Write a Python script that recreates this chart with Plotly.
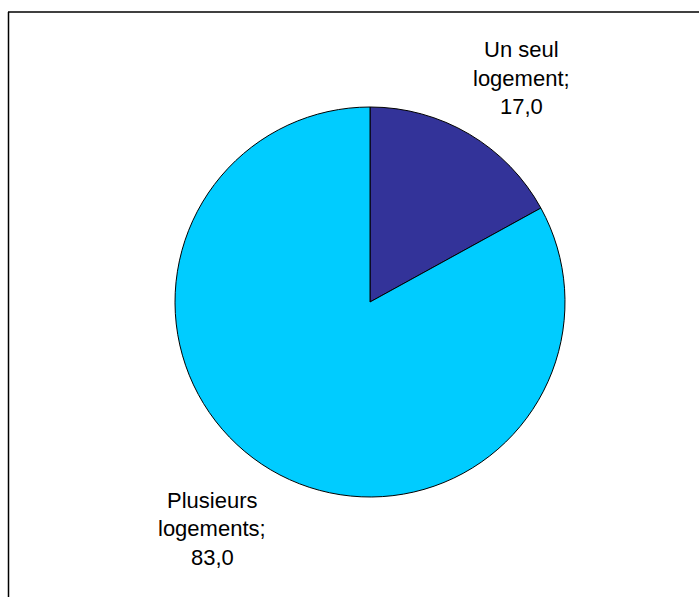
import plotly.graph_objects as go

labels = ["Un seul logement", "Plusieurs logements"]
values = [17.0, 83.0]
colors = ["#333399", "#00CCFF"]

W, H = 699, 597

def px(x):
    return x / W

def py(y):
    return 1 - y / H

fig = go.Figure()
fig.add_trace(go.Pie(
    labels=labels,
    values=values,
    sort=False,
    direction="clockwise",
    rotation=0,
    marker=dict(colors=colors, line=dict(color="black", width=1)),
    textinfo="none",
    hoverinfo="label+value",
    showlegend=False,
    domain=dict(x=[px(175), px(565)], y=[py(497), py(107)]),
))

def fmt(v):
    return f"{v:.1f}".replace(".", ",")

label_lines = [
    ["Un seul", "logement;", fmt(values[0])],
    ["Plusieurs", "logements;", fmt(values[1])],
]
label_pos = [(521, 50), (212, 500)]
line_gap = 28.5

font = dict(family="Liberation Sans, Arial, sans-serif", size=22, color="black")
annotations = []
for lines, (cx, cy) in zip(label_lines, label_pos):
    for i, t in enumerate(lines):
        annotations.append(dict(
            x=px(cx), y=py(cy + i * line_gap), xref="paper", yref="paper",
            text=t, showarrow=False, xanchor="center", yanchor="middle", font=font,
        ))

frame_line = dict(color="black", width=1.5)
fig.update_layout(
    width=W, height=H,
    margin=dict(l=0, r=0, t=0, b=0),
    paper_bgcolor="white",
    plot_bgcolor="white",
    annotations=annotations,
    shapes=[
        dict(type="line", xref="paper", yref="paper",
             x0=px(8.5), y0=0, x1=px(8.5), y1=py(12), line=frame_line),
        dict(type="line", xref="paper", yref="paper",
             x0=px(8), y0=py(12), x1=1, y1=py(12), line=frame_line),
    ],
)

fig.write_html(
    "out.html",
    config={"displayModeBar": False},
    post_script="document.body.style.margin='0';document.body.style.overflow='hidden';",
)
